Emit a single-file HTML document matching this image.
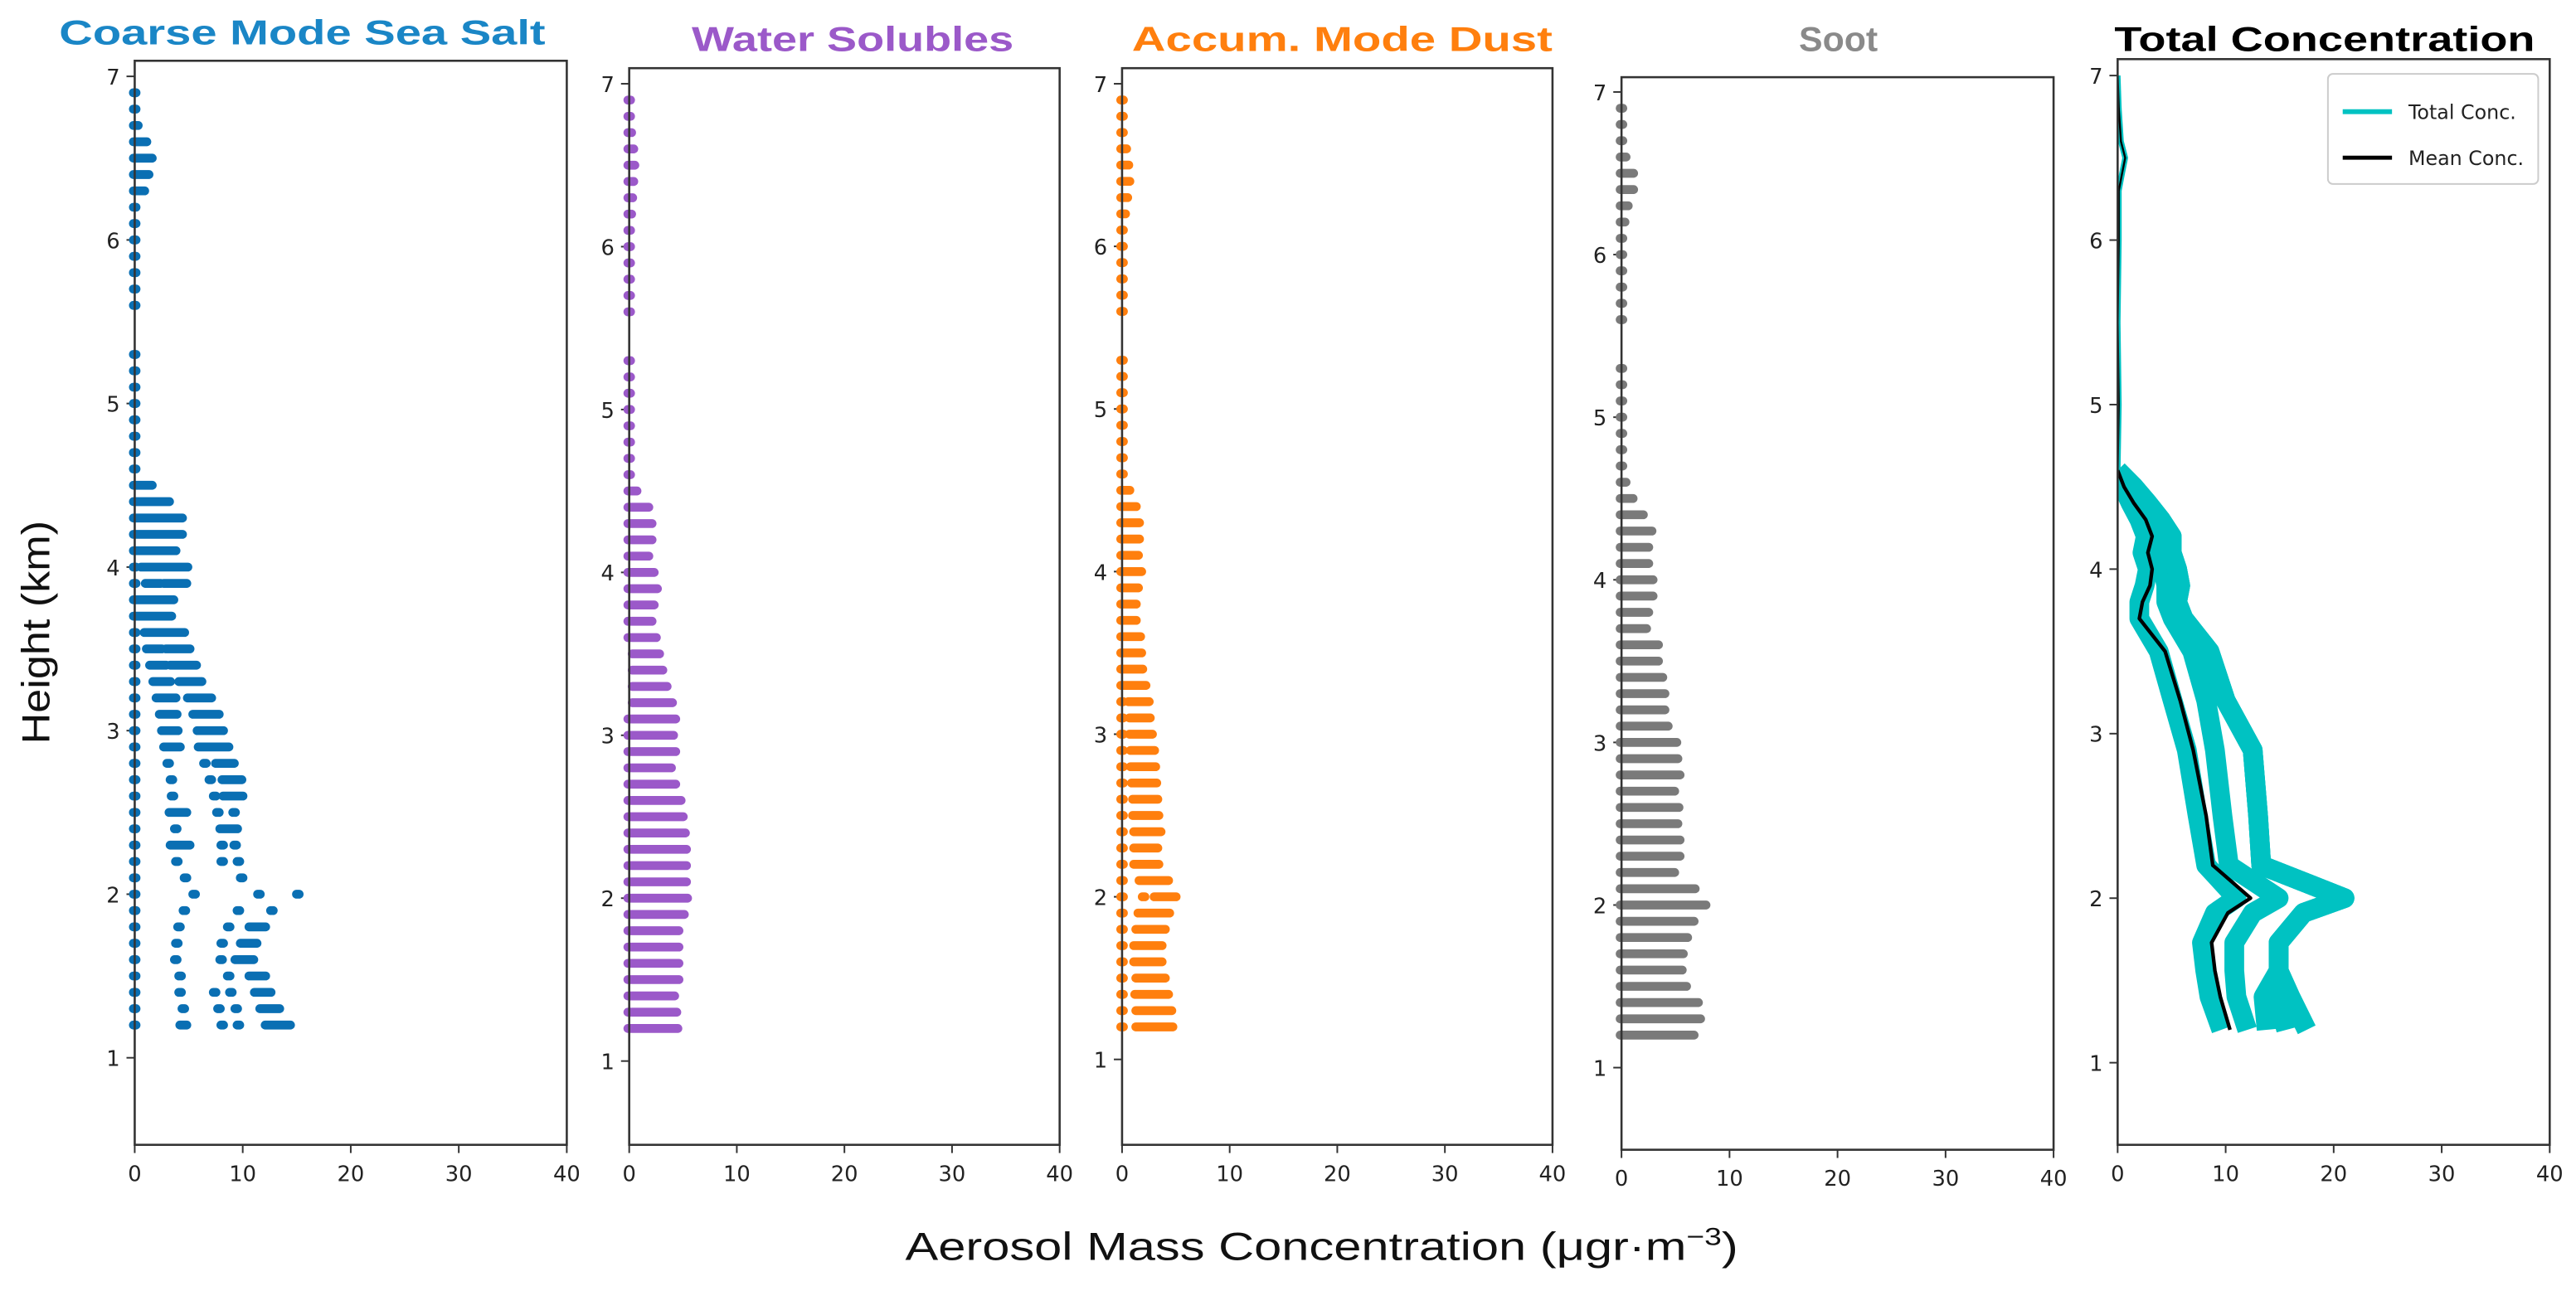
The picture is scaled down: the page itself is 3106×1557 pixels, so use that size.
<!DOCTYPE html>
<html><head><meta charset="utf-8">
<style>
html,body{margin:0;padding:0;background:#fff;}
svg{display:block;}
</style></head>
<body>
<svg id="chart" width="3106" height="1557" viewBox="0 0 1568 786" preserveAspectRatio="none" xmlns="http://www.w3.org/2000/svg">
<defs><clipPath id="clip5"><rect x="1289" y="36" width="263" height="661"/></clipPath></defs>
<rect x="0" y="0" width="1568" height="786" fill="#fff"/>
<text x="0" y="0" transform="translate(30,385) rotate(-90)" text-anchor="middle" font-family="Liberation Sans, DejaVu Sans, sans-serif" font-size="24" textLength="136" lengthAdjust="spacingAndGlyphs" fill="#111">Height (km)</text>
<text x="551" y="767" font-family="Liberation Sans, DejaVu Sans, sans-serif" font-size="24" textLength="507" lengthAdjust="spacingAndGlyphs" fill="#111">Aerosol Mass Concentration (μgr·m<tspan font-size="15" dy="-9">−3</tspan><tspan dy="9">)</tspan></text>
<g id="panels"></g>
</svg>
<script>
// ---------- data ----------
const xTicks = [0, 10, 20, 30, 40];
const yTicks = [1, 2, 3, 4, 5, 6, 7];
const levels = [1.2,1.3,1.4,1.5,1.6,1.7,1.8,1.9,2.0,2.1,2.2,2.3,2.4,2.5,2.6,2.7,2.8,2.9,3.0,3.1,3.2,3.3,3.4,3.5,3.6,3.7,3.8,3.9,4.0,4.1,4.2,4.3,4.4,4.5,4.6,4.7,4.8,4.9,5.0,5.1,5.2,5.3,5.6,5.7,5.8,5.9,6.0,6.1,6.2,6.3,6.4,6.5,6.6,6.7,6.8,6.9];
const seaSaltSegs = [
 [[0,0],[4.3,4.7],[8.1,8.1],[9.6,9.6],[12.2,14.3]],
 [[0,0],[4.5,4.5],[7.8,7.8],[9.4,9.4],[11.7,13.3]],
 [[0,0],[4.2,4.2],[7.4,7.4],[8.9,8.9],[11.2,12.5]],
 [[0,0],[4.2,4.2],[8.7,8.7],[10.7,12]],
 [[0,0],[3.8,3.8],[8,8],[9.4,10.9]],
 [[0,0],[3.9,3.9],[8.1,8.1],[9.9,11.2]],
 [[0,0],[4.1,4.1],[8.7,8.7],[10.7,12]],
 [[0,0],[4.6,4.6],[9.6,9.6],[12.7,12.7]],
 [[0,0],[5.5,5.5],[11.5,11.5],[15.1,15.1]],
 [[0,0],[4.7,4.7],[9.9,9.9]],
 [[0,0],[3.9,3.9],[8.1,8.1],[9.6,9.6]],
 [[0,0],[3.4,5],[8.1,8.1],[9.3,9.3]],
 [[0,0],[3.8,3.8],[8,9.4]],
 [[0,0],[3.3,4.7],[7.7,7.7],[9.2,9.2]],
 [[0,0],[3.5,3.5],[7.4,7.4],[8.3,9.9]],
 [[0,0],[3.4,3.4],[7,7],[8.2,9.8]],
 [[0,0],[3.1,3.1],[6.5,6.5],[7.6,9.1]],
 [[0,0],[2.8,4.1],[6,8.6]],
 [[0,0],[2.6,3.9],[5.9,8.1]],
 [[0,0],[2.4,3.8],[5.5,7.7]],
 [[0,0],[2.1,3.7],[5,7]],
 [[0,0],[1.8,3.2],[4.2,6.1]],
 [[0,0],[1.5,2.8],[3.4,5.6]],
 [[0,0],[1.2,2.4],[3,5]],
 [[0,0],[1,4.5]],
 [[0,3.3]],
 [[0,3.5]],
 [[0,0],[1.1,2.3],[2.8,4.7]],
 [[0,0],[0.7,4.8]],
 [[0,3.7]],
 [[0,4.3]],
 [[0,4.3]],
 [[0,3.1]],
 [[0,1.5]],
 [[0,0]],[[0,0]],[[0,0]],[[0,0]],[[0,0]],[[0,0]],[[0,0]],[[0,0]],
 [[0,0]],[[0,0]],[[0,0]],[[0,0]],[[0,0]],[[0,0]],[[0,0]],
 [[0,0.8]],[[0,1.2]],[[0,1.5]],[[0,1.0]],[[0,0.2]],[[0,0]],[[0,0]]
];
const waterMax = [4.4,4.3,4.1,4.5,4.5,4.5,4.5,5.0,5.3,5.2,5.2,5.2,5.1,4.9,4.7,4.2,3.8,4.2,4.0,4.2,3.9,3.4,3.0,2.7,2.4,2.0,2.2,2.5,2.2,1.7,2.0,2.0,1.7,0.6,
 0,0,0,0,0,0,0,0, 0,0,0,0,0,0,0.1,0.2,0.3,0.4,0.3,0.1,0,0];
const dustSegs = [
 [[0,0],[1.4,4.6]],[[0,0],[1.4,4.5]],[[0,0],[1.3,4.2]],[[0,0],[1.4,3.9]],[[0,0],[1.2,3.6]],[[0,0],[1.2,3.6]],
 [[0,0],[1.4,3.9]],[[0,0],[1.6,4.3]],[[0,0],[2.0,2.0],[3.1,4.9]],[[0,0],[1.7,4.2]],[[0,0],[1.2,3.3]],[[0,0],[1.2,3.2]],
 [[0,0],[1.2,3.5]],[[0,0],[1.1,3.3]],[[0,0],[1.1,3.2]],[[0,0],[1.0,3.1]],[[0,0],[0.9,3.0]],[[0,0],[0.9,2.9]],
 [[0,0],[0.8,2.7]],[[0,0],[0.8,2.5]],[[0,0],[0.7,2.4]],[[0,2.1]],[[0,1.8]],[[0,1.7]],[[0,1.6]],[[0,1.2]],[[0,1.2]],
 [[0,1.4]],[[0,1.7]],[[0,1.4]],[[0,1.5]],[[0,1.5]],[[0,1.2]],[[0,0.6]],
 [[0,0]],[[0,0]],[[0,0]],[[0,0]],[[0,0]],[[0,0]],[[0,0]],[[0,0]],
 [[0,0]],[[0,0]],[[0,0]],[[0,0]],[[0,0]],[[0,0]],[[0,0.2]],[[0,0.4]],[[0,0.6]],[[0,0.5]],[[0,0.3]],[[0,0]],[[0,0]],[[0,0]]
];
const sootMax = [6.6,7.2,7.0,5.9,5.5,5.6,6.0,6.6,7.7,6.7,4.8,5.3,5.3,5.1,5.2,4.8,5.3,5.1,5.0,4.2,3.9,3.9,3.7,3.3,3.3,2.2,2.4,2.8,2.8,2.4,2.4,2.7,1.9,0.95,
 0.3,0,0,0,0,0,0,0, 0,0,0,0,0,0,0.2,0.5,1.0,1.0,0.3,0,0,0];
const totalHeights = [1.2,1.4,1.56,1.73,1.91,2.0,2.2,2.5,2.9,3.2,3.5,3.7,3.8,3.9,4.0,4.1,4.2,4.3,4.4,4.5,4.6];
const meanConc = [10.4,9.5,9.0,8.7,10.2,12.3,8.8,8.2,7.0,5.8,4.4,2.0,2.3,3.0,3.2,2.8,3.2,2.6,1.5,0.6,0];
const totalA = [9.6,8.5,8.1,7.8,9.0,11.0,8.2,7.4,6.4,5.1,3.8,2.0,2.0,2.5,2.8,2.3,2.6,2.0,1.2,0.5,0];
const totalB = [12.0,11.0,10.8,10.8,12.5,14.9,10.3,9.7,9.0,8.2,6.9,5.1,4.5,4.5,4.2,3.8,4.0,3.2,2.0,1.0,0];
const totalC = [17.5,16.0,14.9,14.9,17.2,21.0,13.3,13.0,12.5,10.0,8.5,6.1,5.5,5.8,5.5,5.0,5.0,4.0,2.8,1.5,0];
const totalD = [13.8,13.5,14.9,14.9,17.2,21.0,13.3,13.0,12.5,10.0,8.5,6.1,5.5,5.8,5.5,5.0,5.0,4.0,2.8,1.5,0];
const totalE = [15.6,14.8,14.9,14.9,17.2,21.0,13.3,13.0,12.5,10.0,8.5,6.1,5.5,5.8,5.5,5.0,5.0,4.0,2.8,1.5,0];
const upperHeights = [4.6,5.0,5.5,6.0,6.3,6.4,6.5,6.6,6.8,7.0];
const upperConc = [0,0.1,0,0.1,0.1,0.4,0.7,0.3,0.1,0];

// ---------- drawing ----------
const NS = "http://www.w3.org/2000/svg";
const root = document.getElementById("panels");
function mk(tag, attrs, parent){
  const e = document.createElementNS(NS, tag);
  for (const k in attrs) e.setAttribute(k, attrs[k]);
  (parent||root).appendChild(e);
  return e;
}
const panels = [
 {key:"sea-salt", title:"Coarse Mode Sea Salt", color:"#1a86c6", dot:"#0a6fb3", tx:36, tw:296, ty:27, L:82, R:345, T:37, B:697, y7:46.5, y1:644},
 {key:"water-solubles", title:"Water Solubles", color:"#9b59c9", dot:"#9b59c9", tx:421, tw:196, ty:31, L:383, R:645, T:41.5, B:697, y7:51, y1:646},
 {key:"accum-dust", title:"Accum. Mode Dust", color:"#ff7f0e", dot:"#ff7f0e", tx:689, tw:256, ty:31, L:683, R:945, T:41.5, B:697, y7:51, y1:645},
 {key:"soot", title:"Soot", color:"#8a8a8a", dot:"#7a7a7a", tx:1095, tw:48, ty:31, L:987, R:1250, T:47, B:700, y7:56, y1:650},
 {key:"total", title:"Total Concentration", color:"#000", dot:"#000", tx:1287, tw:256, ty:31, L:1289, R:1552, T:36, B:697, y7:46, y1:647}
];
function xs(p,v){ return p.L + (v/40)*(p.R-p.L); }
function ys(p,h){ return p.y1 - (h-1)*(p.y1-p.y7)/6; }

panels.forEach((p, pi) => {
  const g = mk("g", {});
  
  
  const t = mk("text", {x:p.tx, y:p.ty, "font-family":"Liberation Sans, DejaVu Sans, sans-serif", "font-size":"21", "font-weight":"bold", fill:p.color, textLength:p.tw, lengthAdjust:"spacingAndGlyphs"}, g);
  t.textContent = p.title;
  
  
  yTicks.forEach(v => {
    const y = ys(p, v);
    const tl = mk("line", {x1:p.L-5, x2:p.L, y1:y, y2:y, stroke:"#333", "stroke-width":1}, g);
    
    
    const lb = mk("text", {x:p.L-9, y:y+5, "text-anchor":"end", "font-family":"DejaVu Sans, Liberation Sans, sans-serif", "font-size":"13", fill:"#222"}, g);
    lb.textContent = v;
    
    
  });
  xTicks.forEach(v => {
    const x = xs(p, v);
    const tl = mk("line", {x1:x, x2:x, y1:p.B, y2:p.B+5, stroke:"#333", "stroke-width":1}, g);
    
    
    const lb = mk("text", {x:x, y:p.B+22, "text-anchor":"middle", "font-family":"DejaVu Sans, Liberation Sans, sans-serif", "font-size":"13", fill:"#222"}, g);
    lb.textContent = v;
    
    
  });
  const marks = mk("g", pi === 4 ? {"clip-path":"url(#clip5)"} : {}, g);
  
  
  function seg(lo, hi, h){
    const l = mk("line", {x1:xs(p,lo)-0.8, x2:xs(p,hi)+0.8, y1:ys(p,h), y2:ys(p,h), stroke:p.dot, "stroke-width":5.4, "stroke-linecap":"round"}, marks);
    
    
  }
  if (pi === 0) levels.forEach((h,i) => seaSaltSegs[i].forEach(s => seg(s[0], s[1], h)));
  if (pi === 1) levels.forEach((h,i) => seg(i>=20 && i<=23 ? 0.4 : 0, waterMax[i], h));
  if (pi === 2) levels.forEach((h,i) => dustSegs[i].forEach(s => seg(s[0], s[1], h)));
  if (pi === 3) levels.forEach((h,i) => seg(0, sootMax[i], h));
  if (pi === 4) {
    const up = upperConc.map((v,i) => xs(p,v).toFixed(1) + "," + ys(p,upperHeights[i]).toFixed(1)).join(" ");
    const ul = mk("polyline", {points:up, fill:"none", stroke:"#00c2c2", "stroke-width":3.5, "stroke-linejoin":"round"}, marks);
    
    
    [totalA, totalB, totalD, totalE, totalC].forEach(arr => {
      const pts = arr.map((v,i) => xs(p,v).toFixed(1) + "," + ys(p,totalHeights[i]).toFixed(1)).join(" ");
      const pl = mk("polyline", {points:pts, fill:"none", stroke:"#00c2c2", "stroke-width":12, "stroke-linejoin":"round"}, marks);
      
      
    });
    const mp = meanConc.map((v,i) => xs(p,v).toFixed(1) + "," + ys(p,totalHeights[i]).toFixed(1)).join(" ");
    const ml = mk("polyline", {points:mp, fill:"none", stroke:"#000", "stroke-width":2.2, "stroke-linejoin":"round"}, marks);
    
    
    const mu = upperConc.map((v,i) => xs(p,v).toFixed(1) + "," + ys(p,upperHeights[i]).toFixed(1)).join(" ");
    const mul = mk("polyline", {points:mu, fill:"none", stroke:"#000", "stroke-width":1.2, "stroke-linejoin":"round"}, marks);
    
    
  }
  const fr = mk("rect", {x:p.L, y:p.T, width:p.R-p.L, height:p.B-p.T, fill:"none", stroke:"#333", "stroke-width":1.3}, g);
  
  
  if (pi === 4) {
    const lg = mk("g", {}, g);
    
    
    const bx = mk("rect", {x:1417, y:45, width:128, height:67, rx:3, fill:"#fff", stroke:"#ccc", "stroke-width":1}, lg);
    
    
    const l1 = mk("line", {x1:1426, x2:1456, y1:68, y2:68, stroke:"#00c2c2", "stroke-width":3}, lg);
    
    
    const t1 = mk("text", {x:1466, y:72.5, "font-family":"DejaVu Sans, Liberation Sans, sans-serif", "font-size":"12", fill:"#222"}, lg);
    t1.textContent = "Total Conc.";
    
    
    const l2 = mk("line", {x1:1426, x2:1456, y1:96, y2:96, stroke:"#000", "stroke-width":2.5}, lg);
    
    
    const t2 = mk("text", {x:1466, y:100.5, "font-family":"DejaVu Sans, Liberation Sans, sans-serif", "font-size":"12", fill:"#222"}, lg);
    t2.textContent = "Mean Conc.";
    
    
  }
});
</script>
</body></html>
